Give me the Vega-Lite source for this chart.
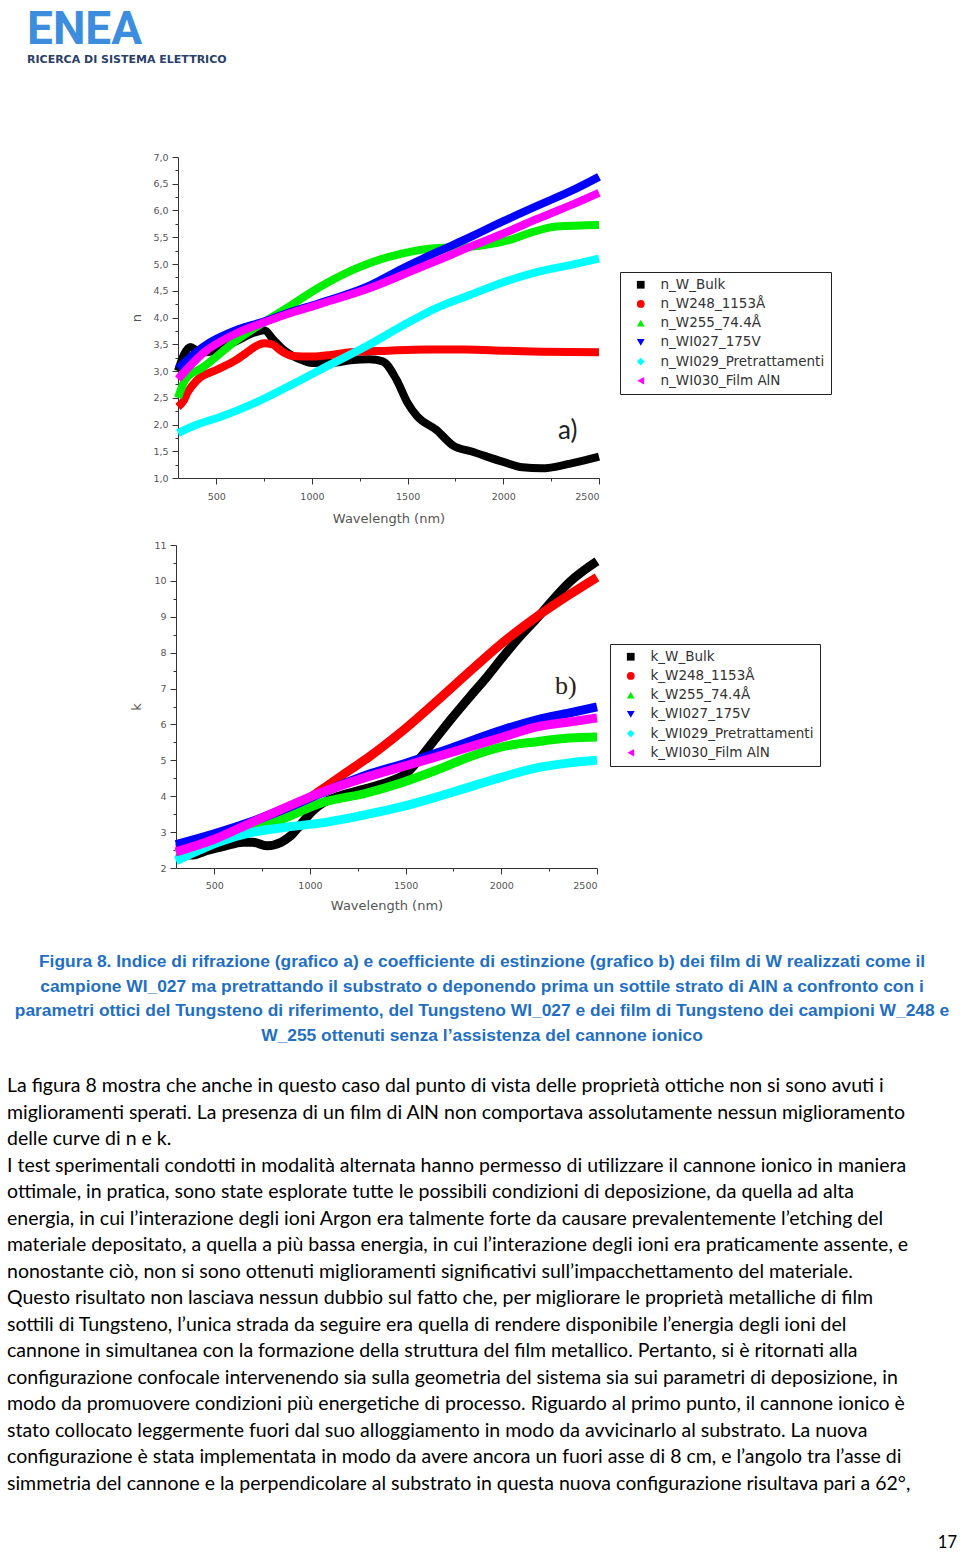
{
  "$schema": "https://vega.github.io/schema/vega-lite/v6.json",
  "background": "white",
  "padding": {"left": 7, "top": 7, "right": 0, "bottom": 0},
  "title": {
    "text": "ENEA",
    "subtitle": "RICERCA DI SISTEMA ELETTRICO",
    "anchor": "start",
    "frame": "group",
    "dx": 20,
    "font": "Roboto",
    "fontSize": 46,
    "fontWeight": "bold",
    "color": "#3C8DDE",
    "subtitleFont": "DejaVu Sans",
    "subtitleFontSize": 11,
    "subtitleFontWeight": "bold",
    "subtitleColor": "#2A3F6A",
    "subtitlePadding": 0,
    "offset": 86
  },
  "datasets": {
    "n": [
      {"s": "n_W_Bulk", "wl": 300, "v": 3.0}, {"s": "n_W_Bulk", "wl": 330, "v": 3.3}, {"s": "n_W_Bulk", "wl": 365, "v": 3.45}, {"s": "n_W_Bulk", "wl": 400, "v": 3.38}, {"s": "n_W_Bulk", "wl": 450, "v": 3.35}, {"s": "n_W_Bulk", "wl": 500, "v": 3.4}, {"s": "n_W_Bulk", "wl": 600, "v": 3.55}, {"s": "n_W_Bulk", "wl": 700, "v": 3.72}, {"s": "n_W_Bulk", "wl": 750, "v": 3.76}, {"s": "n_W_Bulk", "wl": 800, "v": 3.58}, {"s": "n_W_Bulk", "wl": 850, "v": 3.4}, {"s": "n_W_Bulk", "wl": 900, "v": 3.28}, {"s": "n_W_Bulk", "wl": 950, "v": 3.2}, {"s": "n_W_Bulk", "wl": 1000, "v": 3.15}, {"s": "n_W_Bulk", "wl": 1100, "v": 3.15}, {"s": "n_W_Bulk", "wl": 1200, "v": 3.2}, {"s": "n_W_Bulk", "wl": 1300, "v": 3.22}, {"s": "n_W_Bulk", "wl": 1370, "v": 3.18}, {"s": "n_W_Bulk", "wl": 1440, "v": 2.85}, {"s": "n_W_Bulk", "wl": 1500, "v": 2.4}, {"s": "n_W_Bulk", "wl": 1550, "v": 2.15}, {"s": "n_W_Bulk", "wl": 1650, "v": 1.9}, {"s": "n_W_Bulk", "wl": 1740, "v": 1.6}, {"s": "n_W_Bulk", "wl": 1830, "v": 1.5}, {"s": "n_W_Bulk", "wl": 2000, "v": 1.3}, {"s": "n_W_Bulk", "wl": 2100, "v": 1.2}, {"s": "n_W_Bulk", "wl": 2200, "v": 1.18}, {"s": "n_W_Bulk", "wl": 2350, "v": 1.27}, {"s": "n_W_Bulk", "wl": 2500, "v": 1.4},
      {"s": "n_W248_1153Å", "wl": 300, "v": 2.33}, {"s": "n_W248_1153Å", "wl": 330, "v": 2.45}, {"s": "n_W248_1153Å", "wl": 350, "v": 2.6}, {"s": "n_W248_1153Å", "wl": 400, "v": 2.83}, {"s": "n_W248_1153Å", "wl": 500, "v": 3.02}, {"s": "n_W248_1153Å", "wl": 600, "v": 3.2}, {"s": "n_W248_1153Å", "wl": 650, "v": 3.32}, {"s": "n_W248_1153Å", "wl": 700, "v": 3.45}, {"s": "n_W248_1153Å", "wl": 750, "v": 3.52}, {"s": "n_W248_1153Å", "wl": 790, "v": 3.5}, {"s": "n_W248_1153Å", "wl": 850, "v": 3.35}, {"s": "n_W248_1153Å", "wl": 900, "v": 3.28}, {"s": "n_W248_1153Å", "wl": 1000, "v": 3.27}, {"s": "n_W248_1153Å", "wl": 1100, "v": 3.3}, {"s": "n_W248_1153Å", "wl": 1200, "v": 3.35}, {"s": "n_W248_1153Å", "wl": 1400, "v": 3.38}, {"s": "n_W248_1153Å", "wl": 1600, "v": 3.4}, {"s": "n_W248_1153Å", "wl": 1800, "v": 3.4}, {"s": "n_W248_1153Å", "wl": 2000, "v": 3.38}, {"s": "n_W248_1153Å", "wl": 2200, "v": 3.36}, {"s": "n_W248_1153Å", "wl": 2500, "v": 3.35},
      {"s": "n_W255_74.4Å", "wl": 300, "v": 2.5}, {"s": "n_W255_74.4Å", "wl": 340, "v": 2.85}, {"s": "n_W255_74.4Å", "wl": 430, "v": 3.07}, {"s": "n_W255_74.4Å", "wl": 608, "v": 3.58}, {"s": "n_W255_74.4Å", "wl": 744, "v": 3.9}, {"s": "n_W255_74.4Å", "wl": 869, "v": 4.18}, {"s": "n_W255_74.4Å", "wl": 1041, "v": 4.57}, {"s": "n_W255_74.4Å", "wl": 1214, "v": 4.89}, {"s": "n_W255_74.4Å", "wl": 1303, "v": 5.02}, {"s": "n_W255_74.4Å", "wl": 1475, "v": 5.2}, {"s": "n_W255_74.4Å", "wl": 1652, "v": 5.3}, {"s": "n_W255_74.4Å", "wl": 1825, "v": 5.32}, {"s": "n_W255_74.4Å", "wl": 1945, "v": 5.38}, {"s": "n_W255_74.4Å", "wl": 2034, "v": 5.45}, {"s": "n_W255_74.4Å", "wl": 2138, "v": 5.58}, {"s": "n_W255_74.4Å", "wl": 2279, "v": 5.7}, {"s": "n_W255_74.4Å", "wl": 2500, "v": 5.73},
      {"s": "n_WI027_175V", "wl": 300, "v": 3.05}, {"s": "n_WI027_175V", "wl": 430, "v": 3.45}, {"s": "n_WI027_175V", "wl": 608, "v": 3.77}, {"s": "n_WI027_175V", "wl": 744, "v": 3.92}, {"s": "n_WI027_175V", "wl": 869, "v": 4.08}, {"s": "n_WI027_175V", "wl": 1041, "v": 4.27}, {"s": "n_WI027_175V", "wl": 1303, "v": 4.6}, {"s": "n_WI027_175V", "wl": 1475, "v": 4.92}, {"s": "n_WI027_175V", "wl": 1652, "v": 5.22}, {"s": "n_WI027_175V", "wl": 1825, "v": 5.5}, {"s": "n_WI027_175V", "wl": 2000, "v": 5.8}, {"s": "n_WI027_175V", "wl": 2185, "v": 6.1}, {"s": "n_WI027_175V", "wl": 2357, "v": 6.37}, {"s": "n_WI027_175V", "wl": 2500, "v": 6.63},
      {"s": "n_WI029_Pretrattamenti", "wl": 300, "v": 1.84}, {"s": "n_WI029_Pretrattamenti", "wl": 400, "v": 2.0}, {"s": "n_WI029_Pretrattamenti", "wl": 520, "v": 2.14}, {"s": "n_WI029_Pretrattamenti", "wl": 700, "v": 2.4}, {"s": "n_WI029_Pretrattamenti", "wl": 870, "v": 2.7}, {"s": "n_WI029_Pretrattamenti", "wl": 1041, "v": 3.02}, {"s": "n_WI029_Pretrattamenti", "wl": 1303, "v": 3.5}, {"s": "n_WI029_Pretrattamenti", "wl": 1475, "v": 3.85}, {"s": "n_WI029_Pretrattamenti", "wl": 1652, "v": 4.18}, {"s": "n_WI029_Pretrattamenti", "wl": 1825, "v": 4.42}, {"s": "n_WI029_Pretrattamenti", "wl": 2000, "v": 4.66}, {"s": "n_WI029_Pretrattamenti", "wl": 2175, "v": 4.85}, {"s": "n_WI029_Pretrattamenti", "wl": 2350, "v": 4.98}, {"s": "n_WI029_Pretrattamenti", "wl": 2500, "v": 5.1},
      {"s": "n_WI030_Film AlN", "wl": 300, "v": 2.85}, {"s": "n_WI030_Film AlN", "wl": 430, "v": 3.33}, {"s": "n_WI030_Film AlN", "wl": 608, "v": 3.71}, {"s": "n_WI030_Film AlN", "wl": 744, "v": 3.9}, {"s": "n_WI030_Film AlN", "wl": 869, "v": 4.06}, {"s": "n_WI030_Film AlN", "wl": 1041, "v": 4.25}, {"s": "n_WI030_Film AlN", "wl": 1303, "v": 4.55}, {"s": "n_WI030_Film AlN", "wl": 1475, "v": 4.8}, {"s": "n_WI030_Film AlN", "wl": 1652, "v": 5.06}, {"s": "n_WI030_Film AlN", "wl": 1825, "v": 5.32}, {"s": "n_WI030_Film AlN", "wl": 2000, "v": 5.57}, {"s": "n_WI030_Film AlN", "wl": 2175, "v": 5.84}, {"s": "n_WI030_Film AlN", "wl": 2347, "v": 6.09}, {"s": "n_WI030_Film AlN", "wl": 2500, "v": 6.33}
    ],
    "k": [
      {"s": "k_W_Bulk", "wl": 300, "v": 2.4}, {"s": "k_W_Bulk", "wl": 390, "v": 2.36}, {"s": "k_W_Bulk", "wl": 441, "v": 2.45}, {"s": "k_W_Bulk", "wl": 550, "v": 2.6}, {"s": "k_W_Bulk", "wl": 650, "v": 2.72}, {"s": "k_W_Bulk", "wl": 700, "v": 2.72}, {"s": "k_W_Bulk", "wl": 775, "v": 2.62}, {"s": "k_W_Bulk", "wl": 850, "v": 2.72}, {"s": "k_W_Bulk", "wl": 900, "v": 2.9}, {"s": "k_W_Bulk", "wl": 950, "v": 3.2}, {"s": "k_W_Bulk", "wl": 1015, "v": 3.6}, {"s": "k_W_Bulk", "wl": 1068, "v": 3.81}, {"s": "k_W_Bulk", "wl": 1150, "v": 4.0}, {"s": "k_W_Bulk", "wl": 1250, "v": 4.15}, {"s": "k_W_Bulk", "wl": 1350, "v": 4.3}, {"s": "k_W_Bulk", "wl": 1420, "v": 4.42}, {"s": "k_W_Bulk", "wl": 1506, "v": 4.65}, {"s": "k_W_Bulk", "wl": 1574, "v": 5.05}, {"s": "k_W_Bulk", "wl": 1663, "v": 5.65}, {"s": "k_W_Bulk", "wl": 1747, "v": 6.21}, {"s": "k_W_Bulk", "wl": 1835, "v": 6.77}, {"s": "k_W_Bulk", "wl": 1924, "v": 7.32}, {"s": "k_W_Bulk", "wl": 2008, "v": 7.88}, {"s": "k_W_Bulk", "wl": 2096, "v": 8.44}, {"s": "k_W_Bulk", "wl": 2185, "v": 8.95}, {"s": "k_W_Bulk", "wl": 2269, "v": 9.47}, {"s": "k_W_Bulk", "wl": 2357, "v": 9.97}, {"s": "k_W_Bulk", "wl": 2500, "v": 10.55},
      {"s": "k_W248_1153Å", "wl": 300, "v": 2.55}, {"s": "k_W248_1153Å", "wl": 500, "v": 2.75}, {"s": "k_W248_1153Å", "wl": 702, "v": 3.05}, {"s": "k_W248_1153Å", "wl": 880, "v": 3.55}, {"s": "k_W248_1153Å", "wl": 1052, "v": 4.15}, {"s": "k_W248_1153Å", "wl": 1200, "v": 4.7}, {"s": "k_W248_1153Å", "wl": 1310, "v": 5.1}, {"s": "k_W248_1153Å", "wl": 1475, "v": 5.78}, {"s": "k_W248_1153Å", "wl": 1652, "v": 6.6}, {"s": "k_W248_1153Å", "wl": 1825, "v": 7.43}, {"s": "k_W248_1153Å", "wl": 2000, "v": 8.25}, {"s": "k_W248_1153Å", "wl": 2185, "v": 9.0}, {"s": "k_W248_1153Å", "wl": 2357, "v": 9.62}, {"s": "k_W248_1153Å", "wl": 2500, "v": 10.1},
      {"s": "k_W255_74.4Å", "wl": 300, "v": 2.4}, {"s": "k_W255_74.4Å", "wl": 500, "v": 2.7}, {"s": "k_W255_74.4Å", "wl": 700, "v": 3.05}, {"s": "k_W255_74.4Å", "wl": 850, "v": 3.35}, {"s": "k_W255_74.4Å", "wl": 1052, "v": 3.8}, {"s": "k_W255_74.4Å", "wl": 1297, "v": 4.09}, {"s": "k_W255_74.4Å", "wl": 1475, "v": 4.37}, {"s": "k_W255_74.4Å", "wl": 1663, "v": 4.73}, {"s": "k_W255_74.4Å", "wl": 1835, "v": 5.1}, {"s": "k_W255_74.4Å", "wl": 2008, "v": 5.38}, {"s": "k_W255_74.4Å", "wl": 2185, "v": 5.52}, {"s": "k_W255_74.4Å", "wl": 2357, "v": 5.62}, {"s": "k_W255_74.4Å", "wl": 2500, "v": 5.65},
      {"s": "k_WI027_175V", "wl": 300, "v": 2.65}, {"s": "k_WI027_175V", "wl": 500, "v": 2.95}, {"s": "k_WI027_175V", "wl": 700, "v": 3.3}, {"s": "k_WI027_175V", "wl": 900, "v": 3.72}, {"s": "k_WI027_175V", "wl": 1052, "v": 4.07}, {"s": "k_WI027_175V", "wl": 1300, "v": 4.6}, {"s": "k_WI027_175V", "wl": 1500, "v": 4.92}, {"s": "k_WI027_175V", "wl": 1663, "v": 5.2}, {"s": "k_WI027_175V", "wl": 2008, "v": 5.85}, {"s": "k_WI027_175V", "wl": 2185, "v": 6.13}, {"s": "k_WI027_175V", "wl": 2357, "v": 6.32}, {"s": "k_WI027_175V", "wl": 2500, "v": 6.49},
      {"s": "k_WI029_Pretrattamenti", "wl": 300, "v": 2.2}, {"s": "k_WI029_Pretrattamenti", "wl": 400, "v": 2.45}, {"s": "k_WI029_Pretrattamenti", "wl": 520, "v": 2.72}, {"s": "k_WI029_Pretrattamenti", "wl": 702, "v": 3.0}, {"s": "k_WI029_Pretrattamenti", "wl": 880, "v": 3.14}, {"s": "k_WI029_Pretrattamenti", "wl": 1052, "v": 3.25}, {"s": "k_WI029_Pretrattamenti", "wl": 1303, "v": 3.5}, {"s": "k_WI029_Pretrattamenti", "wl": 1475, "v": 3.7}, {"s": "k_WI029_Pretrattamenti", "wl": 1663, "v": 3.98}, {"s": "k_WI029_Pretrattamenti", "wl": 1835, "v": 4.26}, {"s": "k_WI029_Pretrattamenti", "wl": 2008, "v": 4.54}, {"s": "k_WI029_Pretrattamenti", "wl": 2185, "v": 4.79}, {"s": "k_WI029_Pretrattamenti", "wl": 2357, "v": 4.93}, {"s": "k_WI029_Pretrattamenti", "wl": 2500, "v": 5.0},
      {"s": "k_WI030_Film AlN", "wl": 300, "v": 2.45}, {"s": "k_WI030_Film AlN", "wl": 500, "v": 2.8}, {"s": "k_WI030_Film AlN", "wl": 700, "v": 3.28}, {"s": "k_WI030_Film AlN", "wl": 880, "v": 3.7}, {"s": "k_WI030_Film AlN", "wl": 1052, "v": 4.09}, {"s": "k_WI030_Film AlN", "wl": 1300, "v": 4.54}, {"s": "k_WI030_Film AlN", "wl": 1500, "v": 4.85}, {"s": "k_WI030_Film AlN", "wl": 1663, "v": 5.1}, {"s": "k_WI030_Film AlN", "wl": 2008, "v": 5.65}, {"s": "k_WI030_Film AlN", "wl": 2185, "v": 5.93}, {"s": "k_WI030_Film AlN", "wl": 2357, "v": 6.07}, {"s": "k_WI030_Film AlN", "wl": 2500, "v": 6.18}
    ],
    "caption": [
      {"line": 1, "text": "Figura 8. Indice di rifrazione (grafico a) e coefficiente di estinzione (grafico b) dei film di W realizzati come il"},
      {"line": 2, "text": "campione WI_027 ma pretrattando il substrato o deponendo prima un sottile strato di AlN a confronto con i"},
      {"line": 3, "text": "parametri ottici del Tungsteno di riferimento, del Tungsteno WI_027 e dei film di Tungsteno dei campioni W_248 e"},
      {"line": 4, "text": "W_255 ottenuti senza l’assistenza del cannone ionico"}
    ],
    "body": [
      {"line": 1, "text": "La figura 8 mostra che anche in questo caso dal punto di vista delle proprietà ottiche non si sono avuti i"},
      {"line": 2, "text": "miglioramenti sperati. La presenza di un film di AlN non comportava assolutamente nessun miglioramento"},
      {"line": 3, "text": "delle curve di n e k."},
      {"line": 4, "text": "I test sperimentali condotti in modalità alternata hanno permesso di utilizzare il cannone ionico in maniera"},
      {"line": 5, "text": "ottimale, in pratica, sono state esplorate tutte le possibili condizioni di deposizione, da quella ad alta"},
      {"line": 6, "text": "energia, in cui l’interazione degli ioni Argon era talmente forte da causare prevalentemente l’etching del"},
      {"line": 7, "text": "materiale depositato, a quella a più bassa energia, in cui l’interazione degli ioni era praticamente assente, e"},
      {"line": 8, "text": "nonostante ciò, non si sono ottenuti miglioramenti significativi sull’impacchettamento del materiale."},
      {"line": 9, "text": "Questo risultato non lasciava nessun dubbio sul fatto che, per migliorare le proprietà metalliche di film"},
      {"line": 10, "text": "sottili di Tungsteno, l’unica strada da seguire era quella di rendere disponibile l’energia degli ioni del"},
      {"line": 11, "text": "cannone in simultanea con la formazione della struttura del film metallico. Pertanto, si è ritornati alla"},
      {"line": 12, "text": "configurazione confocale intervenendo sia sulla geometria del sistema sia sui parametri di deposizione, in"},
      {"line": 13, "text": "modo da promuovere condizioni più energetiche di processo. Riguardo al primo punto, il cannone ionico è"},
      {"line": 14, "text": "stato collocato leggermente fuori dal suo alloggiamento in modo da avvicinarlo al substrato. La nuova"},
      {"line": 15, "text": "configurazione è stata implementata in modo da avere ancora un fuori asse di 8 cm, e l’angolo tra l’asse di"},
      {"line": 16, "text": "simmetria del cannone e la perpendicolare al substrato in questa nuova configurazione risultava pari a 62°,"}
    ]
  },
  "spacing": 0,
  "resolve": {"scale": {"color": "independent", "x": "independent", "y": "independent"}, "legend": {"color": "independent"}},
  "vconcat": [
    {
      "spacing": 0,
      "resolve": {"scale": {"color": "independent", "x": "independent", "y": "independent"}, "legend": {"color": "independent"}},
      "hconcat": [
        {"width": 123, "height": 383, "data": {"values": [{}]}, "mark": {"type": "point", "opacity": 0}, "encoding": {}},
        {
          "width": 421,
          "height": 321,
          "layer": [
            {
              "data": {"name": "n"},
              "mark": {"type": "line", "strokeWidth": 8, "interpolate": "monotone", "strokeCap": "butt", "strokeJoin": "round"},
              "encoding": {
                "x": {"field": "wl", "type": "quantitative", "title": "Wavelength (nm)",
                  "scale": {"domain": [300, 2500], "nice": false, "zero": false},
                  "axis": {"values": [500, 750, 1000, 1250, 1500, 1750, 2000, 2250, 2500], "tickCount": 100, "labelExpr": "datum.value % 500 === 0 ? format(datum.value, 'd') : ''", "tickSize": {"condition": {"test": "datum.value % 500 === 0", "value": 6}, "value": 3}, "labelPadding": 7, "titlePadding": 12, "labelOverlap": false}},
                "y": {"field": "v", "type": "quantitative", "title": "n",
                  "scale": {"domain": [1, 7], "nice": false, "zero": false},
                  "axis": {"values": [1, 1.25, 1.5, 1.75, 2, 2.25, 2.5, 2.75, 3, 3.25, 3.5, 3.75, 4, 4.25, 4.5, 4.75, 5, 5.25, 5.5, 5.75, 6, 6.25, 6.5, 6.75, 7], "tickCount": 100, "labelExpr": "round(datum.value*4) % 2 === 0 ? replace(format(datum.value, '.1f'), '.', ',') : ''", "tickSize": {"condition": {"test": "round(datum.value*4) % 2 === 0", "value": 6}, "value": 3}, "labelPadding": 4, "titlePadding": 9, "labelOverlap": false}},
                "color": {"field": "s", "type": "nominal",
                  "scale": {"domain": ["n_W_Bulk", "n_W248_1153Å", "n_W255_74.4Å", "n_WI027_175V", "n_WI029_Pretrattamenti", "n_WI030_Film AlN"], "range": ["#000000", "#ff0000", "#00ee00", "#0000ff", "#00ffff", "#ff00ff"]},
                  "legend": {"orient": "none", "legendX": 442, "legendY": 115, "title": null, "strokeColor": "#222", "fillColor": "#ffffff", "padding": 6, "labelFont": "DejaVu Sans", "labelFontSize": 13.5, "labelColor": "#333", "labelLimit": 300, "symbolSize": 60, "symbolOffset": 8, "labelOffset": 13, "rowPadding": 4.2, "symbolType": "square",
                    "encode": {"symbols": {"update": {"shape": {"signal": "['square','circle','triangle-up','triangle-down','diamond','triangle-left'][datum.index]"}, "fill": {"signal": "['#000000','#ff0000','#00ee00','#0000ff','#00ffff','#ff00ff'][datum.index]"}, "strokeWidth": {"value": 0}, "opacity": {"value": 1}}}}}}
              }
            },
            {
              "data": {"values": [{"label": "a)", "wl": 2337, "v": 1.88}]},
              "mark": {"type": "text", "font": "Lato", "fontSize": 26, "color": "#222", "baseline": "middle", "align": "center"},
              "encoding": {"x": {"field": "wl", "type": "quantitative"}, "y": {"field": "v", "type": "quantitative"}, "text": {"field": "label"}}
            }
          ]
        }
      ]
    },
    {
      "spacing": 0,
      "resolve": {"scale": {"color": "independent", "x": "independent", "y": "independent"}, "legend": {"color": "independent"}},
      "hconcat": [
        {"width": 123, "height": 393, "data": {"values": [{}]}, "mark": {"type": "point", "opacity": 0}, "encoding": {}},
        {
          "width": 421,
          "height": 323,
          "layer": [
            {
              "data": {"name": "k"},
              "mark": {"type": "line", "strokeWidth": 9, "interpolate": "monotone", "strokeCap": "butt", "strokeJoin": "round"},
              "encoding": {
                "x": {"field": "wl", "type": "quantitative", "title": "Wavelength (nm)",
                  "scale": {"domain": [300, 2500], "nice": false, "zero": false},
                  "axis": {"values": [500, 750, 1000, 1250, 1500, 1750, 2000, 2250, 2500], "tickCount": 100, "labelExpr": "datum.value % 500 === 0 ? format(datum.value, 'd') : ''", "tickSize": {"condition": {"test": "datum.value % 500 === 0", "value": 6}, "value": 3}, "labelPadding": 6, "titlePadding": 10, "labelOverlap": false}},
                "y": {"field": "v", "type": "quantitative", "title": "k",
                  "scale": {"domain": [2, 11], "nice": false, "zero": false},
                  "axis": {"values": [2, 2.5, 3, 3.5, 4, 4.5, 5, 5.5, 6, 6.5, 7, 7.5, 8, 8.5, 9, 9.5, 10, 10.5, 11], "tickCount": 100, "labelExpr": "datum.value % 1 === 0 ? format(datum.value, 'd') : ''", "tickSize": {"condition": {"test": "datum.value % 1 === 0", "value": 6}, "value": 3}, "labelPadding": 4, "titlePadding": 10, "labelOverlap": false}},
                "color": {"field": "s", "type": "nominal",
                  "scale": {"domain": ["k_W_Bulk", "k_W248_1153Å", "k_W255_74.4Å", "k_WI027_175V", "k_WI029_Pretrattamenti", "k_WI030_Film AlN"], "range": ["#000000", "#ff0000", "#00ee00", "#0000ff", "#00ffff", "#ff00ff"]},
                  "legend": {"orient": "none", "legendX": 434, "legendY": 99, "title": null, "strokeColor": "#222", "fillColor": "#ffffff", "padding": 6, "labelFont": "DejaVu Sans", "labelFontSize": 13.5, "labelColor": "#333", "labelLimit": 300, "symbolSize": 60, "symbolOffset": 8, "labelOffset": 13, "rowPadding": 4.2, "symbolType": "square",
                    "encode": {"symbols": {"update": {"shape": {"signal": "['square','circle','triangle-up','triangle-down','diamond','triangle-left'][datum.index]"}, "fill": {"signal": "['#000000','#ff0000','#00ee00','#0000ff','#00ffff','#ff00ff'][datum.index]"}, "strokeWidth": {"value": 0}, "opacity": {"value": 1}}}}}}
              }
            },
            {
              "data": {"values": [{"label": "b)", "wl": 2337, "v": 7.07}]},
              "mark": {"type": "text", "font": "Liberation Serif", "fontSize": 26, "color": "#222", "baseline": "middle", "align": "center"},
              "encoding": {"x": {"field": "wl", "type": "quantitative"}, "y": {"field": "v", "type": "quantitative"}, "text": {"field": "label"}}
            }
          ]
        }
      ]
    },
    {
      "width": 950,
      "height": 122,
      "data": {"name": "caption"},
      "mark": {"type": "text", "align": "center", "baseline": "middle", "font": "Liberation Sans, Arial, sans-serif", "fontWeight": "bold", "fontSize": 17.4, "color": "#1F6FC5"},
      "encoding": {
        "x": {"datum": 0.5, "type": "quantitative", "scale": {"domain": [0, 1]}, "axis": null},
        "y": {"field": "line", "type": "ordinal", "scale": {"type": "point", "padding": 1}, "axis": null},
        "text": {"field": "text"}
      }
    },
    {
      "width": 950,
      "height": 450,
      "data": {"name": "body"},
      "mark": {"type": "text", "align": "left", "baseline": "middle", "font": "Lato", "fontSize": 19.5, "color": "#000000"},
      "encoding": {
        "x": {"datum": 0, "type": "quantitative", "scale": {"domain": [0, 1]}, "axis": null},
        "y": {"field": "line", "type": "ordinal", "scale": {"type": "point", "padding": 1}, "axis": null},
        "text": {"field": "text"}
      }
    },
    {
      "width": 950,
      "height": 33,
      "data": {"values": [{"page": "17"}]},
      "mark": {"type": "text", "align": "right", "baseline": "middle", "font": "Lato", "fontSize": 16.5, "color": "#000000"},
      "encoding": {
        "x": {"datum": 1, "type": "quantitative", "scale": {"domain": [0, 1]}, "axis": null},
        "y": {"datum": 0, "type": "quantitative", "scale": {"domain": [0, 1]}, "axis": null},
        "text": {"field": "page"}
      }
    }
  ],
  "config": {
    "view": {"stroke": null},
    "axis": {"grid": false, "domainColor": "#333", "tickColor": "#333", "labelFont": "DejaVu Sans", "labelFontSize": 9.5, "labelColor": "#555", "titleFont": "DejaVu Sans", "titleFontSize": 13, "titleColor": "#555", "titleFontWeight": "normal"}
  }
}
